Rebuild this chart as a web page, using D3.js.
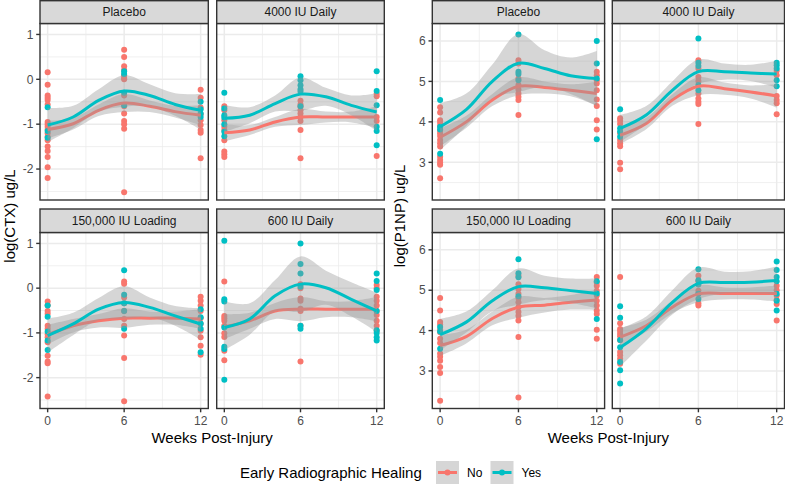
<!DOCTYPE html>
<html><head><meta charset="utf-8">
<script src="https://cdn.jsdelivr.net/npm/d3@7"></script>
<style>body{margin:0;background:#fff} svg{display:block} text{font-family:"Liberation Sans",Arial,Helvetica,sans-serif}</style>
</head><body><svg id="c" width="785" height="485"></svg>
<script>
// ---------------- DATA ----------------
const facets = ["Placebo", "4000 IU Daily", "150,000 IU Loading", "600 IU Daily"];
const weeks = [0, 6, 12];
const smoothX = [0, 2, 4, 6, 8, 10, 12];
const groups = ["No", "Yes"];
const xTicks = [0, 6, 12];
const xMinor = [3, 9];
const ctxTicks = [-2, -1, 0, 1];
const ctxMinor = [-2.5, -1.5, -0.5, 0.5];
const p1npTicks = [3, 4, 5, 6];
const p1npMinor = [2.5, 3.5, 4.5, 5.5];

// points, per facet: [week0, week6, week12]
const ctxNo = [
  [[0.16,-0.12,-0.36,-0.41,-0.46,-0.56,-0.95,-1.0,-1.06,-1.12,-1.2,-1.28,-1.36,-1.5,-1.6,-1.73,-1.96,-2.2],
   [0.66,0.5,0.29,0.21,0.09,0.03,0.0,-0.36,-0.6,-0.76,-0.93,-1.0,-1.1,-2.52],
   [-0.23,-0.41,-0.63,-0.78,-0.91,-1.02,-1.13,-1.19,-1.76]],
  [[-0.6,-0.69,-0.91,-1.06,-1.13,-1.36,-1.61,-1.67,-1.73],
   [-0.48,-0.56,-0.61,-0.69,-0.76,-0.84,-0.93,-1.13,-1.76],
   [-0.32,-0.38,-0.84,-0.93,-1.71]],
  [[-0.30,-0.38,-0.51,-0.57,-0.84,-0.91,-1.03,-1.1,-1.21,-1.51,-1.64,-1.68,-2.42],
   [0.15,0.1,-0.21,-0.34,-0.51,-0.69,-0.84,-1.06,-1.56,-2.53],
   [-0.19,-0.28,-0.39,-0.51,-0.67,-0.8,-0.95,-1.1,-1.29,-1.49]],
  [[0.15,-0.62,-0.67,-0.73,-0.84,-1.01,-1.09,-1.40,-1.61],
   [0.09,0.0,-0.23,-0.28,-0.46,-0.51,-0.84,-1.64],
   [0.07,0.0,-0.19,-0.28,-0.39,-0.51,-0.6,-0.73,-0.84,-0.95]]
];
const ctxYes = [
  [[-0.62,-1.15,-1.3],[0.18,0.12,-0.3,-0.58],[-0.5,-0.67,-0.76,-0.84]],
  [[-0.30,-0.65,-0.8,-0.85,-1.0,-1.17,-1.27],[0.07,-0.02,-0.13,-0.22,-0.27,-0.6],[0.18,-0.26,-0.58,-1.06,-1.15,-1.47]],
  [[-0.39,-0.64,-0.97,-1.17,-1.38],[0.40,-0.15,-0.34,-0.51,-0.91],[-0.47,-0.65,-0.79,-0.91,-1.43]],
  [[1.06,-0.25,-0.30,-0.88,-1.31,-1.36,-2.05],[1.0,0.54,0.33,0.03,-0.84,-0.91],[0.33,0.16,-0.04,-0.51,-0.94,-1.0,-1.1,-1.17]]
];
const p1npNo = [
  [[4.36,4.23,4.04,3.98,3.9,3.78,3.72,3.65,3.55,3.47,3.39,3.14,3.06,2.99,2.94,2.61],
   [5.52,5.44,5.07,4.91,4.8,4.70,4.62,4.54,4.17],
   [5.24,5.15,5.03,4.95,4.78,4.55,4.39,4.04,3.81]],
  [[4.09,4.03,3.95,3.72,3.55,3.47,3.40,2.99,2.83],
   [5.52,5.32,5.11,5.01,4.70,4.58,4.50,4.44,3.95],
   [5.26,5.15,4.64,4.54,4.46,4.19]],
  [[4.81,4.50,4.21,4.15,4.02,3.96,3.80,3.69,3.43,3.35,3.25,3.10,2.95,2.26],
   [5.36,5.15,5.03,4.91,4.81,4.70,4.58,4.46,4.37,4.25,3.84,2.34],
   [5.33,5.19,5.11,4.99,4.87,4.74,4.62,4.50,4.41,4.02,3.80]],
  [[5.33,4.18,4.04,3.99,3.92,3.86,3.76,3.47,3.39,3.30,3.18],
   [5.36,5.22,4.99,4.91,4.68,4.62],
   [5.11,5.0,4.87,4.76,4.66,4.25]]
];
const p1npYes = [
  [[4.54,3.88,3.81,3.21],[6.16,5.24,5.18,5.03],[6.0,5.44,5.07,3.57]],
  [[4.31,3.84,3.76,3.63],[6.06,5.46,5.38,4.91,4.78],[5.46,5.40,5.32,5.03,4.88]],
  [[4.09,3.98,3.55],[5.77,5.42,5.32,4.85],[5.22,4.92,4.29]],
  [[4.60,4.32,3.77,3.59,3.22,3.02,2.69],[5.52,5.25,5.14,4.91,4.78],[5.71,5.50,5.33,5.22,4.91,4.74,4.50]]
];

// smooth fits at smoothX, per facet
const ctxNoFit = [
  [-1.12,-0.99,-0.69,-0.53,-0.6,-0.72,-0.8],
  [-1.19,-1.13,-0.95,-0.84,-0.84,-0.84,-0.84],
  [-1.04,-0.84,-0.73,-0.67,-0.67,-0.67,-0.69],
  [-0.86,-0.73,-0.51,-0.47,-0.47,-0.47,-0.47]];
const ctxNoLo = [
  [-1.32,-1.12,-0.82,-0.73,-0.73,-0.85,-1.02],
  [-1.38,-1.24,-1.06,-1.02,-0.96,-0.96,-1.08],
  [-1.26,-0.99,-0.88,-0.89,-0.82,-0.82,-0.91],
  [-1.14,-0.91,-0.69,-0.74,-0.65,-0.65,-0.74]];
const ctxNoHi = [
  [-0.92,-0.86,-0.56,-0.33,-0.47,-0.59,-0.58],
  [-1.0,-1.02,-0.84,-0.66,-0.72,-0.72,-0.60],
  [-0.82,-0.69,-0.58,-0.45,-0.52,-0.52,-0.47],
  [-0.58,-0.55,-0.33,-0.20,-0.29,-0.29,-0.20]];
const ctxYesFit = [
  [-1.02,-0.84,-0.47,-0.26,-0.36,-0.56,-0.69],
  [-0.87,-0.8,-0.54,-0.33,-0.39,-0.58,-0.73],
  [-1.06,-0.8,-0.47,-0.32,-0.43,-0.62,-0.8],
  [-0.88,-0.69,-0.17,0.09,0.01,-0.25,-0.51]];
const ctxYesLo = [
  [-1.40,-1.09,-0.72,-0.61,-0.61,-0.81,-1.12],
  [-1.17,-0.98,-0.72,-0.70,-0.59,-0.80,-1.15],
  [-1.44,-1.05,-0.72,-0.68,-0.65,-0.84,-1.15],
  [-1.38,-1.04,-0.52,-0.53,-0.37,-0.63,-0.98]];
const ctxYesHi = [
  [-0.64,-0.59,-0.22,0.09,-0.11,-0.31,-0.33],
  [-0.57,-0.62,-0.36,0.04,-0.19,-0.36,-0.31],
  [-0.68,-0.55,-0.22,0.04,-0.21,-0.40,-0.45],
  [-0.30,-0.34,0.18,0.71,0.39,0.13,-0.10]];
const p1npNoFit = [
  [3.62,4.0,4.54,4.88,4.85,4.78,4.70],
  [3.67,3.96,4.54,4.88,4.82,4.74,4.64],
  [3.63,3.85,4.30,4.58,4.63,4.70,4.76],
  [3.84,4.12,4.58,4.91,4.92,4.92,4.92]];
const p1npNoLo = [
  [3.40,3.85,4.39,4.66,4.70,4.63,4.40],
  [3.46,3.82,4.40,4.66,4.67,4.58,4.35],
  [3.37,3.68,4.13,4.32,4.45,4.52,4.51],
  [3.61,3.97,4.43,4.70,4.77,4.77,4.72]];
const p1npNoHi = [
  [3.84,4.15,4.69,5.10,5.0,4.93,5.0],
  [3.88,4.10,4.68,5.10,4.97,4.90,4.93],
  [3.89,4.02,4.47,4.84,4.81,4.88,5.01],
  [4.07,4.27,4.73,5.12,5.07,5.07,5.12]];
const p1npYesFit = [
  [3.88,4.30,5.0,5.45,5.32,5.14,5.07],
  [3.84,4.17,4.78,5.24,5.24,5.21,5.18],
  [3.90,4.21,4.74,5.09,5.06,4.99,4.92],
  [3.58,4.05,4.70,5.17,5.19,5.20,5.24]];
const p1npYesLo = [
  [3.30,3.90,4.58,4.74,4.87,4.69,4.39],
  [3.51,3.95,4.56,4.94,5.04,5.01,4.85],
  [3.51,3.95,4.48,4.64,4.76,4.69,4.55],
  [3.11,3.75,4.40,4.78,4.92,4.93,4.89]];
const p1npYesHi = [
  [4.46,4.70,5.42,6.17,5.77,5.59,5.75],
  [4.17,4.39,5.0,5.54,5.44,5.41,5.51],
  [4.29,4.47,5.0,5.54,5.36,5.29,5.29],
  [4.05,4.35,5.0,5.56,5.46,5.47,5.59]];

// ---------------- DRAW ----------------
const colors = {No: "#F8766D", Yes: "#00BFC4"};
const svg = d3.select("#c");
const rows = [{strip: [0.7, 23.5], panel: [23.5, 200]}, {strip: [209, 232.5], panel: [232.5, 408.5]}];
let clipId = 0;

function drawPlot(cfg) {
  facets.forEach((fname, fi) => {
    const r = Math.floor(fi / 2), c = fi % 2;
    const [x0, x1] = cfg.cols[c];
    const [y0, y1] = rows[r].panel;
    const x = d3.scaleLinear().domain([-0.6, 12.6]).range([x0, x1]);
    const y = d3.scaleLinear().domain(cfg.yDomain).range([y1, y0]);
    const g = svg.append("g");
    g.append("rect").attr("x", x0).attr("y", y0).attr("width", x1 - x0).attr("height", y1 - y0).attr("fill", "#fff");
    // grid
    xMinor.forEach(v => g.append("line").attr("x1", x(v)).attr("x2", x(v)).attr("y1", y0).attr("y2", y1).attr("stroke", "#EBEBEB").attr("stroke-width", 0.75));
    cfg.yMinor.forEach(v => g.append("line").attr("x1", x0).attr("x2", x1).attr("y1", y(v)).attr("y2", y(v)).attr("stroke", "#EBEBEB").attr("stroke-width", 0.75));
    xTicks.forEach(v => g.append("line").attr("x1", x(v)).attr("x2", x(v)).attr("y1", y0).attr("y2", y1).attr("stroke", "#EBEBEB").attr("stroke-width", 1.5));
    cfg.yTicks.forEach(v => g.append("line").attr("x1", x0).attr("x2", x1).attr("y1", y(v)).attr("y2", y(v)).attr("stroke", "#EBEBEB").attr("stroke-width", 1.5));
    const cid = "clip" + (clipId++);
    svg.append("clipPath").attr("id", cid).append("rect").attr("x", x0).attr("y", y0).attr("width", x1 - x0).attr("height", y1 - y0);
    const pg = g.append("g").attr("clip-path", `url(#${cid})`);
    // points
    groups.forEach(gr => {
      const pts = cfg.points[gr][fi];
      const flat = [];
      pts.forEach((arr, wi) => arr.forEach(v => flat.push({w: weeks[wi], v})));
      pg.selectAll(null).data(flat).enter().append("circle")
        .attr("cx", d => x(d.w)).attr("cy", d => y(d.v)).attr("r", 3).attr("fill", colors[gr]);
    });
    // smooth ribbons + lines
    groups.forEach(gr => {
      const fit = cfg.fit[gr][fi], lo = cfg.lo[gr][fi], hi = cfg.hi[gr][fi];
      const data = smoothX.map((sx, i) => ({sx, f: fit[i], lo: lo[i], hi: hi[i]}));
      const area = d3.area().x(d => x(d.sx)).y0(d => y(d.lo)).y1(d => y(d.hi)).curve(d3.curveCatmullRom);
      const line = d3.line().x(d => x(d.sx)).y(d => y(d.f)).curve(d3.curveCatmullRom);
      pg.append("path").attr("d", area(data)).attr("fill", "#999999").attr("fill-opacity", 0.4);
      pg.append("path").attr("d", line(data)).attr("fill", "none").attr("stroke", colors[gr]).attr("stroke-width", 3);
    });
    // border
    g.append("rect").attr("x", x0).attr("y", y0).attr("width", x1 - x0).attr("height", y1 - y0)
      .attr("fill", "none").attr("stroke", "#333333").attr("stroke-width", 1.4);
    // strip
    const [s0, s1] = rows[r].strip;
    g.append("rect").attr("x", x0).attr("y", s0).attr("width", x1 - x0).attr("height", s1 - s0)
      .attr("fill", "#D9D9D9").attr("stroke", "#333333").attr("stroke-width", 1.4);
    g.append("text").attr("x", (x0 + x1) / 2).attr("y", (s0 + s1) / 2 + 4.3).attr("text-anchor", "middle")
      .attr("font-size", 12).attr("fill", "#1A1A1A").text(fname);
    // axes
    if (c === 0) {
      cfg.yTicks.forEach(v => {
        g.append("line").attr("x1", x0 - 3.8).attr("x2", x0).attr("y1", y(v)).attr("y2", y(v)).attr("stroke", "#333333").attr("stroke-width", 1.4);
        g.append("text").attr("x", x0 - 6.5).attr("y", y(v) + 4.2).attr("text-anchor", "end").attr("font-size", 12).attr("fill", "#4D4D4D").text(v);
      });
    }
    if (r === 1) {
      xTicks.forEach(v => {
        g.append("line").attr("x1", x(v)).attr("x2", x(v)).attr("y1", y1).attr("y2", y1 + 3.8).attr("stroke", "#333333").attr("stroke-width", 1.4);
        g.append("text").attr("x", x(v)).attr("y", 424.5).attr("text-anchor", "middle").attr("font-size", 12).attr("fill", "#4D4D4D").text(v);
      });
    }
  });
  const cx = (cfg.cols[0][0] + cfg.cols[1][1]) / 2;
  svg.append("text").attr("x", cx).attr("y", 442.5).attr("text-anchor", "middle").attr("font-size", 15).attr("fill", "#000").text("Weeks Post-Injury");
  svg.append("text").attr("transform", `translate(${cfg.titleX},216) rotate(-90)`).attr("text-anchor", "middle")
    .attr("font-size", 15).attr("fill", "#000").text(cfg.title);
}

drawPlot({
  cols: [[40, 208.3], [216.7, 384.3]], yDomain: [-2.69, 1.244], yTicks: ctxTicks, yMinor: ctxMinor,
  title: "log(CTX) ug/L", titleX: 14.5,
  points: {No: ctxNo, Yes: ctxYes}, fit: {No: ctxNoFit, Yes: ctxYesFit}, lo: {No: ctxNoLo, Yes: ctxYesLo}, hi: {No: ctxNoHi, Yes: ctxYesHi}
});
drawPlot({
  cols: [[432.3, 604.6], [612.3, 784.5]], yDomain: [2.07, 6.43], yTicks: p1npTicks, yMinor: p1npMinor,
  title: "log(P1NP) ug/L", titleX: 404.5,
  points: {No: p1npNo, Yes: p1npYes}, fit: {No: p1npNoFit, Yes: p1npYesFit}, lo: {No: p1npNoLo, Yes: p1npYesLo}, hi: {No: p1npNoHi, Yes: p1npYesHi}
});

// legend
const lg = svg.append("g");
lg.append("text").attr("x", 240).attr("y", 477.5).attr("font-size", 15).attr("fill", "#000").text("Early Radiographic Healing");
const keys = [{g: "No", x: 436, tx: 467}, {g: "Yes", x: 490.5, tx: 521.5}];
keys.forEach(k => {
  lg.append("rect").attr("x", k.x).attr("y", 461).attr("width", 23).attr("height", 23).attr("fill", "#999999").attr("fill-opacity", 0.4);
  lg.append("line").attr("x1", k.x + 2).attr("x2", k.x + 21).attr("y1", 472.5).attr("y2", 472.5).attr("stroke", colors[k.g]).attr("stroke-width", 3);
  lg.append("circle").attr("cx", k.x + 11.5).attr("cy", 472.5).attr("r", 3).attr("fill", colors[k.g]);
  lg.append("text").attr("x", k.tx).attr("y", 477).attr("font-size", 12).attr("fill", "#000").text(k.g);
});
</script></body></html>
